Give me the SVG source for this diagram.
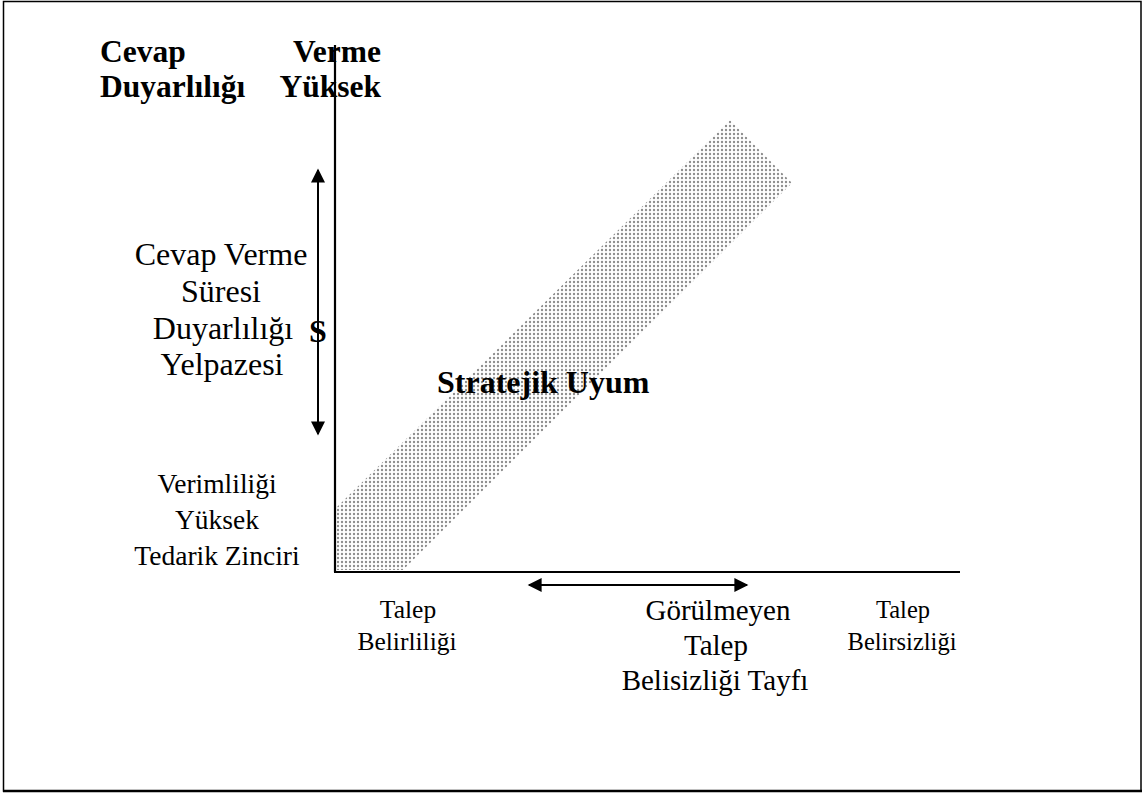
<svg xmlns="http://www.w3.org/2000/svg" width="1144" height="796" viewBox="0 0 1144 796">
  <defs>
    <pattern id="dots" width="4" height="4" patternUnits="userSpaceOnUse">
      <circle cx="2" cy="2" r="1.2" fill="#8e8e8e"/>
    </pattern>
    <marker id="head" viewBox="0 0 10 10" refX="9" refY="5" markerWidth="8" markerHeight="7" markerUnits="strokeWidth" orient="auto-start-reverse">
      <path d="M0,0 L10,5 L0,10 Z" fill="#000"/>
    </marker>
  </defs>
  <style>
    .reg { font-family: "Liberation Serif", "Times New Roman", serif; fill: #000; text-anchor: middle; }
    .bold { font-family: "Liberation Serif", "Times New Roman", serif; font-weight: bold; fill: #000; }
    .axis { stroke: #000; stroke-width: 2.2; fill: none; }
    .dbl { stroke: #000; stroke-width: 2; fill: none; marker-start: url(#head); marker-end: url(#head); }
  </style>

  <rect width="1144" height="796" fill="#fff"/>
  <!-- outer frame -->
  <rect x="3.5" y="1.5" width="1137.5" height="789.5" fill="none" stroke="#000" stroke-width="1.5"/>
  <line x1="3" y1="791" x2="1142" y2="791" stroke="#000" stroke-width="2.5"/>

  <!-- shaded strategic-fit band -->
  <g id="band">
    <polygon points="337,507 730,120 792,183 403,570 337,570" fill="url(#dots)"/>
  </g>

  <!-- axes and range arrows -->
  <g id="connectors">
    <line class="axis" x1="335" y1="45" x2="335" y2="572"/>
    <line class="axis" x1="334" y1="572" x2="960" y2="572"/>
    <line class="dbl" x1="318" y1="170" x2="318" y2="434"/>
    <line class="dbl" x1="529" y1="585" x2="747" y2="585"/>
  </g>

  <g id="y-title">
    <text class="bold" x="100" y="62" font-size="31.5">Cevap</text>
    <text class="bold" x="100" y="97" font-size="31.5">Duyarlılığı</text>
    <text class="bold" x="381" y="62" font-size="31.5" text-anchor="end">Verme</text>
    <text class="bold" x="381" y="97" font-size="31.5" text-anchor="end">Yüksek</text>
  </g>

  <g id="response-range">
    <text class="reg" x="221" y="265" font-size="32">Cevap Verme</text>
    <text class="reg" x="221" y="302" font-size="32">Süresi</text>
    <text class="reg" x="223" y="339" font-size="32">Duyarlılığı</text>
    <text class="reg" x="222" y="375" font-size="32">Yelpazesi</text>
    <text class="bold" x="318" y="342" font-size="32" text-anchor="middle">S</text>
  </g>

  <g id="efficiency">
    <text class="reg" x="217" y="493" font-size="27.5">Verimliliği</text>
    <text class="reg" x="217" y="529" font-size="27.5">Yüksek</text>
    <text class="reg" x="217" y="565" font-size="27.5">Tedarik Zinciri</text>
  </g>

  <g id="fit-label">
    <text class="bold" x="437" y="393" font-size="32">Stratejik Uyum</text>
  </g>

  <g id="x-certain">
    <text class="reg" x="408" y="618" font-size="25.5">Talep</text>
    <text class="reg" x="407" y="650" font-size="25.5">Belirliliği</text>
  </g>

  <g id="x-spectrum">
    <text class="reg" x="718" y="620" font-size="29">Görülmeyen</text>
    <text class="reg" x="716" y="655" font-size="29">Talep</text>
    <text class="reg" x="715" y="690" font-size="29">Belisizliği Tayfı</text>
  </g>

  <g id="x-uncertain">
    <text class="reg" x="903" y="618" font-size="24.5">Talep</text>
    <text class="reg" x="902" y="650" font-size="24.5">Belirsizliği</text>
  </g>
</svg>
